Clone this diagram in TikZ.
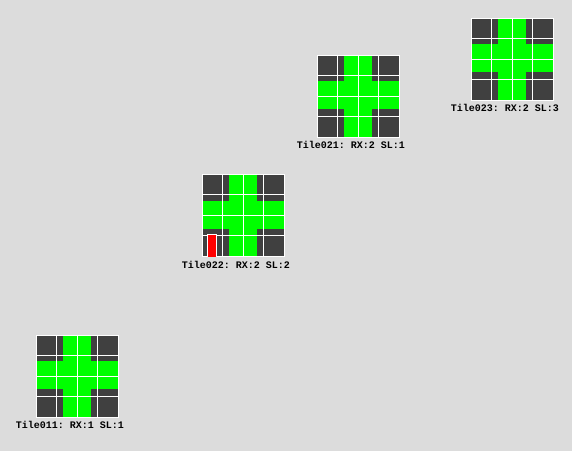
\documentclass[tikz,border=0pt]{standalone}
\usepackage{fontspec}
\setmonofont{Liberation Mono}
\definecolor{bgc}{HTML}{DCDCDC}
\definecolor{darkc}{HTML}{404040}
\definecolor{greenc}{HTML}{00FF00}
\definecolor{redc}{HTML}{FF0000}
\tikzset{
  x=1pt,y=-1pt,
  tilelabel/.style={font=\ttfamily\bfseries\fontsize{10}{10}\selectfont,text=black,inner sep=0pt,anchor=center},
  gridline/.style={draw=white,line width=1pt},
  pics/tile/.style n args={1}{code={
    \fill[darkc] (0,0) rectangle (82,82);
    \fill[greenc] (26.7,0) rectangle (54.7,82);
    \fill[greenc] (0,26.4) rectangle (82,54.4);
    \draw[gridline] (20.4,0) -- (20.4,82);
    \draw[gridline] (41.4,0) -- (41.4,82);
    \draw[gridline] (61.4,0) -- (61.4,82);
    \draw[gridline] (0,20.2) -- (82,20.2);
    \draw[gridline] (0,41.2) -- (82,41.2);
    \draw[gridline] (0,61.2) -- (82,61.2);
    \draw[gridline] (0,0) rectangle (82,82);
    \node[tilelabel] at (33.7,90.2) {#1};
  }}
}
\begin{document}
\begin{tikzpicture}
\useasboundingbox (0,0) rectangle (572,451);
\fill[bgc] (0,0) rectangle (572,451);
\pic at (471.3,18) {tile={Tile023: RX:2 SL:3}};
\pic at (317.3,55) {tile={Tile021: RX:2 SL:1}};
\pic at (202.3,174.6) {tile={Tile022: RX:2 SL:2}};
\pic at (36.3,335) {tile={Tile011: RX:1 SL:1}};
\fill[redc,draw=white,line width=1pt] (207,256.6) -- (207,234.6) -- (216,234.6) -- (216,256.6);
\end{tikzpicture}
\end{document}
